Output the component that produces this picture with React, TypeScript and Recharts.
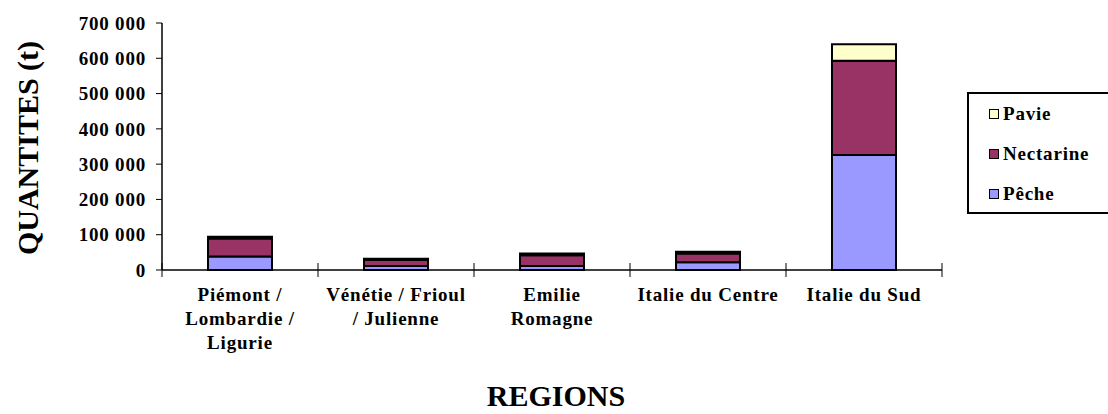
import { BarChart, Bar, XAxis, YAxis } from 'recharts';

// Production de pêches par région (t), barres empilées Pêche / Nectarine / Pavie
const regions = ['Piémont / Lombardie / Ligurie', 'Vénétie / Frioul / Julienne', 'Emilie Romagne', 'Italie du Centre', 'Italie du Sud'];
const regionLines = [['Piémont /', 'Lombardie /', 'Ligurie'], ['Vénétie / Frioul', '/ Julienne'], ['Emilie', 'Romagne'], ['Italie du Centre'], ['Italie du Sud']];
const peche = [38000, 11500, 11000, 22000, 326000];
const nectarine = [51000, 16500, 31000, 25000, 267000];
const pavie = [5000, 4000, 5000, 5000, 47000];
const yTicks = [0, 100000, 200000, 300000, 400000, 500000, 600000, 700000];

const series = [
  { key: 'peche', label: 'Pêche', color: '#9999FF' },
  { key: 'nectarine', label: 'Nectarine', color: '#993366' },
  { key: 'pavie', label: 'Pavie', color: '#FFFFCC' },
];

const data = regions.map((name, i) => ({ name, peche: peche[i], nectarine: nectarine[i], pavie: pavie[i] }));

const W = 1108;
const H = 414;
const PLOT_L = 162;
const PLOT_R = 942;
const PLOT_T = 23;
const PLOT_B = 270;
const BAND = (PLOT_R - PLOT_L) / regions.length;
const FONT = 'Liberation Serif';
const small = { fontFamily: FONT, fontWeight: 700, fontSize: 19, letterSpacing: '0.8px' };

const fmt = (v: number) => String(v).replace(/\B(?=(\d{3})+(?!\d))/g, ' ');

function RegionTick(props: any) {
  const { x, payload, index } = props;
  const i = payload.index ?? index;
  const lines = regionLines[i] || [payload.value];
  const left = x - BAND / 2;
  const last = i === regions.length - 1;
  return (
    <g>
      <line x1={left} x2={left} y1={PLOT_B - 7} y2={PLOT_B + 7} stroke="#000" strokeWidth={1} />
      {last && <line x1={x + BAND / 2} x2={x + BAND / 2} y1={PLOT_B - 7} y2={PLOT_B + 7} stroke="#000" strokeWidth={1} />}
      {lines.map((l: string, k: number) => (
        <text key={k} x={x} y={PLOT_B + 31 + k * 24} textAnchor="middle" style={small} fill="#000">
          {l}
        </text>
      ))}
    </g>
  );
}

function YTick(props: any) {
  const { y, payload } = props;
  return (
    <g>
      <line x1={PLOT_L - 6} x2={PLOT_L} y1={y} y2={y} stroke="#000" strokeWidth={1} />
      <text x={PLOT_L - 16} y={y} dy="0.35em" textAnchor="end" style={small} fill="#000">
        {fmt(payload.value)}
      </text>
    </g>
  );
}

export default function App() {
  return (
    <div style={{ position: 'absolute', left: 0, top: 0, width: W, height: H, overflow: 'hidden', background: '#fff' }}>
      <BarChart width={W} height={H} data={data} margin={{ top: PLOT_T, right: W - PLOT_R, left: 0, bottom: 0 }} barSize={64}>
        <XAxis
          dataKey="name"
          height={H - PLOT_B}
          tickLine={false}
          axisLine={{ stroke: '#000', strokeWidth: 1.5 }}
          tick={<RegionTick />}
          interval={0}
          label={{
            content: () => (
              <text x={556} y={406} textAnchor="middle" style={{ fontFamily: FONT, fontWeight: 700, fontSize: 30 }} fill="#000">
                REGIONS
              </text>
            ),
          }}
        />
        <XAxis xAxisId="top" orientation="top" dataKey="name" height={0} tick={false} tickLine={false} axisLine={{ stroke: '#808080', strokeWidth: 1.5 }} />
        <YAxis
          width={PLOT_L}
          domain={[0, 700000]}
          ticks={yTicks}
          interval={0}
          tickLine={false}
          axisLine={{ stroke: '#000', strokeWidth: 1.5 }}
          tick={<YTick />}
          label={{
            content: () => (
              <text x={38} y={148} transform="rotate(-90 38 148)" textAnchor="middle" style={{ fontFamily: FONT, fontWeight: 700, fontSize: 30 }} fill="#000">
                QUANTITES (t)
              </text>
            ),
          }}
        />
        <YAxis yAxisId="right" orientation="right" width={0} domain={[0, 700000]} tick={false} tickLine={false} axisLine={{ stroke: '#808080', strokeWidth: 1.5 }} />
        {series.map((s) => (
          <Bar key={s.key} dataKey={s.key} name={s.label} stackId="a" fill={s.color} stroke="#000" strokeWidth={2} isAnimationActive={false} />
        ))}
      </BarChart>
      <div
        style={{
          position: 'absolute',
          left: 967,
          top: 92,
          width: 150,
          height: 122,
          border: '2px solid #000',
          boxSizing: 'border-box',
          background: '#fff',
          ...small,
        }}
      >
        {[...series].reverse().map((s) => (
          <div key={s.key} style={{ height: 40, display: 'flex', alignItems: 'center', paddingLeft: 20 }}>
            <span style={{ width: 10, height: 10, background: s.color, border: '1.5px solid #000', boxSizing: 'border-box', marginRight: 4 }} />
            <span style={{ lineHeight: '20px' }}>{s.label}</span>
          </div>
        ))}
      </div>
    </div>
  );
}
